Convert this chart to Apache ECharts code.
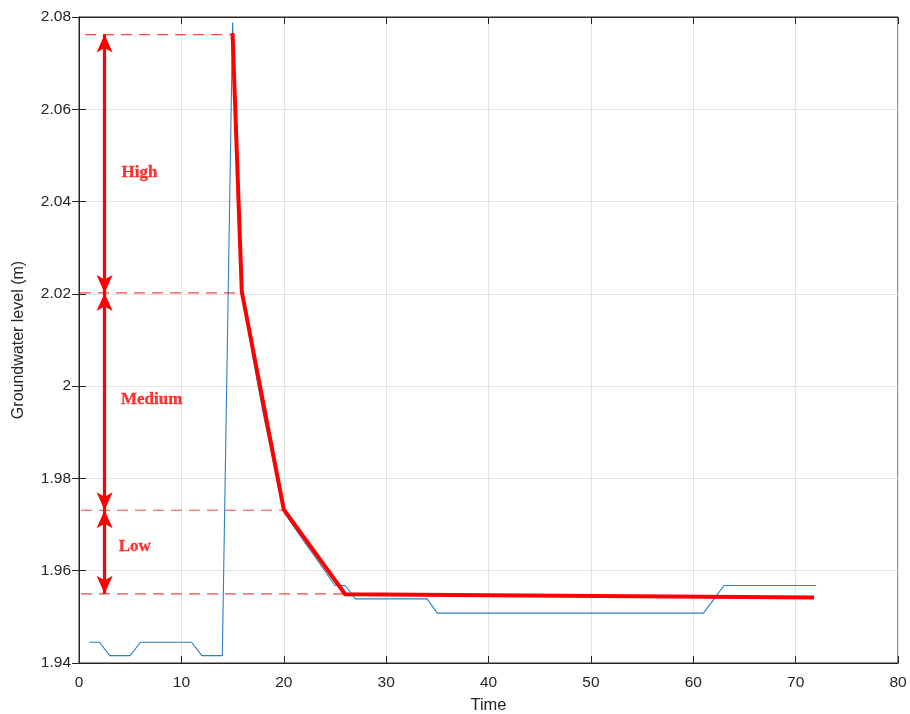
<!DOCTYPE html>
<html><head><meta charset="utf-8">
<script src="https://cdn.jsdelivr.net/npm/echarts@6/dist/echarts.min.js"></script>
<style>html,body{margin:0;padding:0;background:#fff}#c{width:910px;height:714px}</style>
</head><body><div id="c"></div>
<script>
// Measured groundwater level (blue)
const timeSteps = [1,2,3,4,5,6,7,8,9,10,11,12,13,14,15,16,17,18,19,20,21,22,23,24,25,26,27,28,29,30,31,32,33,34,35,36,37,38,39,40,41,42,43,44,45,46,47,48,49,50,51,52,53,54,55,56,57,58,59,60,61,62,63,64,65,66,67,68,69,70,71,72];
const levelValues = [1.9445,1.9445,1.9416,1.9416,1.9416,1.9445,1.9445,1.9445,1.9445,1.9445,1.9445,1.9416,1.9416,1.9416,2.0788,2.020,2.006,1.994,1.9835,1.9728,1.9695,1.9663,1.9632,1.960,1.9568,1.9568,1.9539,1.9539,1.9539,1.9539,1.9539,1.9539,1.9539,1.9539,1.9508,1.9508,1.9508,1.9508,1.9508,1.9508,1.9508,1.9508,1.9508,1.9508,1.9508,1.9508,1.9508,1.9508,1.9508,1.9508,1.9508,1.9508,1.9508,1.9508,1.9508,1.9508,1.9508,1.9508,1.9508,1.9508,1.9508,1.9538,1.9568,1.9568,1.9568,1.9568,1.9568,1.9568,1.9568,1.9568,1.9568,1.9568];
// Red envelope
const envelopeTimes = [15, 15.9, 20, 26, 71.8];
const envelopeValues = [2.0765, 2.0205, 1.9733, 1.9549, 1.9542];
// Threshold levels (dashed) and their extents
const thresholdLevels = [2.0762, 2.0202, 1.9731, 1.9550];
const thresholdStart = [0.6, 0.1, 0.2, 0.2];
const thresholdEnd = [15, 15.9, 20, 26];
// Class labels
const classNames = ['High', 'Medium', 'Low'];
const classLabelTime = [5.9, 7.1, 5.45];
const classLabelValue = [2.0463, 1.997, 1.9653];
const arrowTime = 2.5;
// Axis ticks
const xTicks = {min: 0, max: 80, interval: 10};
const yTicks = {min: 1.94, max: 2.08, interval: 0.02};

const axisCol = '#262626';
const fmtY = v => String(+(+v).toFixed(2));

const series = [];
series.push({
  type: 'line', name: 'measured', showSymbol: false, symbol: 'none', z: 3,
  data: timeSteps.map((t, i) => [t, levelValues[i]]),
  lineStyle: {color: '#2b7fc8', width: 1.1}
});
series.push({
  type: 'line', name: 'envelope', showSymbol: false, symbol: 'none', z: 4,
  data: envelopeTimes.map((t, i) => [t, envelopeValues[i]]),
  lineStyle: {color: '#ff0000', width: 4, join: 'miter'}
});
thresholdLevels.forEach((lv, i) => {
  series.push({
    type: 'line', showSymbol: false, symbol: 'none', z: 2,
    data: [[thresholdStart[i], lv], [thresholdEnd[i], lv]],
    lineStyle: {color: '#f04848', width: 1.2, type: [11, 7]}
  });
});
const arrowData = [];
for (let i = 0; i < thresholdLevels.length - 1; i++) {
  arrowData.push([{coord: [arrowTime, thresholdLevels[i]]}, {coord: [arrowTime, thresholdLevels[i + 1]]}]);
}
series.push({
  type: 'scatter', z: 5, symbolSize: 0, silent: true,
  data: classNames.map((n, i) => ({value: [classLabelTime[i], classLabelValue[i]], name: n})),
  label: {show: true, position: 'inside', formatter: p => p.name, color: '#ff0000',
    fontFamily: 'Liberation Serif', fontWeight: 'bold', fontSize: 17,
    textBorderColor: '#ff0000', textBorderWidth: 0.3},
  markLine: {
    silent: true, symbol: ['arrow', 'arrow'], symbolSize: [12, 18], label: {show: false},
    lineStyle: {color: '#ff0000', width: 3.2, type: 'solid'},
    emphasis: {disabled: true},
    data: arrowData
  }
});

const chart = echarts.init(document.getElementById('c'), null, {renderer: 'canvas'});
chart.setOption({
  animation: false,
  backgroundColor: '#ffffff',
  grid: {left: 79, right: 12, top: 17, bottom: 51, show: true, borderColor: axisCol, borderWidth: 1,
    containLabel: false, outerBoundsMode: 'none'},
  xAxis: [{
    type: 'value', min: xTicks.min, max: xTicks.max, interval: xTicks.interval,
    name: 'Time', nameLocation: 'middle', nameGap: 34,
    nameTextStyle: {color: axisCol, fontSize: 16.5, fontFamily: 'Liberation Sans'},
    axisLine: {show: true, onZero: false, lineStyle: {color: axisCol}},
    axisTick: {show: true, inside: true, length: 7, lineStyle: {color: axisCol}},
    axisLabel: {color: axisCol, fontSize: 15.5, fontFamily: 'Liberation Sans', margin: 12},
    splitLine: {show: true, lineStyle: {color: '#e3e3e3', width: 1}}
  }, {
    type: 'value', position: 'top', min: xTicks.min, max: xTicks.max, interval: xTicks.interval,
    axisLine: {show: true, lineStyle: {color: axisCol}},
    axisTick: {show: true, inside: true, length: 7, lineStyle: {color: axisCol}},
    axisLabel: {show: false}, splitLine: {show: false}
  }],
  yAxis: [{
    type: 'value', min: yTicks.min, max: yTicks.max, interval: yTicks.interval,
    name: 'Groundwater level (m)', nameLocation: 'middle', nameGap: 52, nameRotate: 90,
    nameTextStyle: {color: axisCol, fontSize: 16, fontFamily: 'Liberation Sans'},
    axisLine: {show: true, onZero: false, lineStyle: {color: axisCol}},
    axisTick: {show: true, inside: true, length: 7, lineStyle: {color: axisCol}},
    axisLabel: {color: axisCol, fontSize: 15.5, fontFamily: 'Liberation Sans', formatter: fmtY, margin: 8},
    splitLine: {show: true, lineStyle: {color: '#e3e3e3', width: 1}}
  }, {
    type: 'value', position: 'right', min: yTicks.min, max: yTicks.max, interval: yTicks.interval,
    axisLine: {show: true, lineStyle: {color: axisCol}},
    axisTick: {show: true, inside: true, length: 7, lineStyle: {color: axisCol}},
    axisLabel: {show: false}, splitLine: {show: false}
  }],
  series: series
});
</script>
</body></html>
